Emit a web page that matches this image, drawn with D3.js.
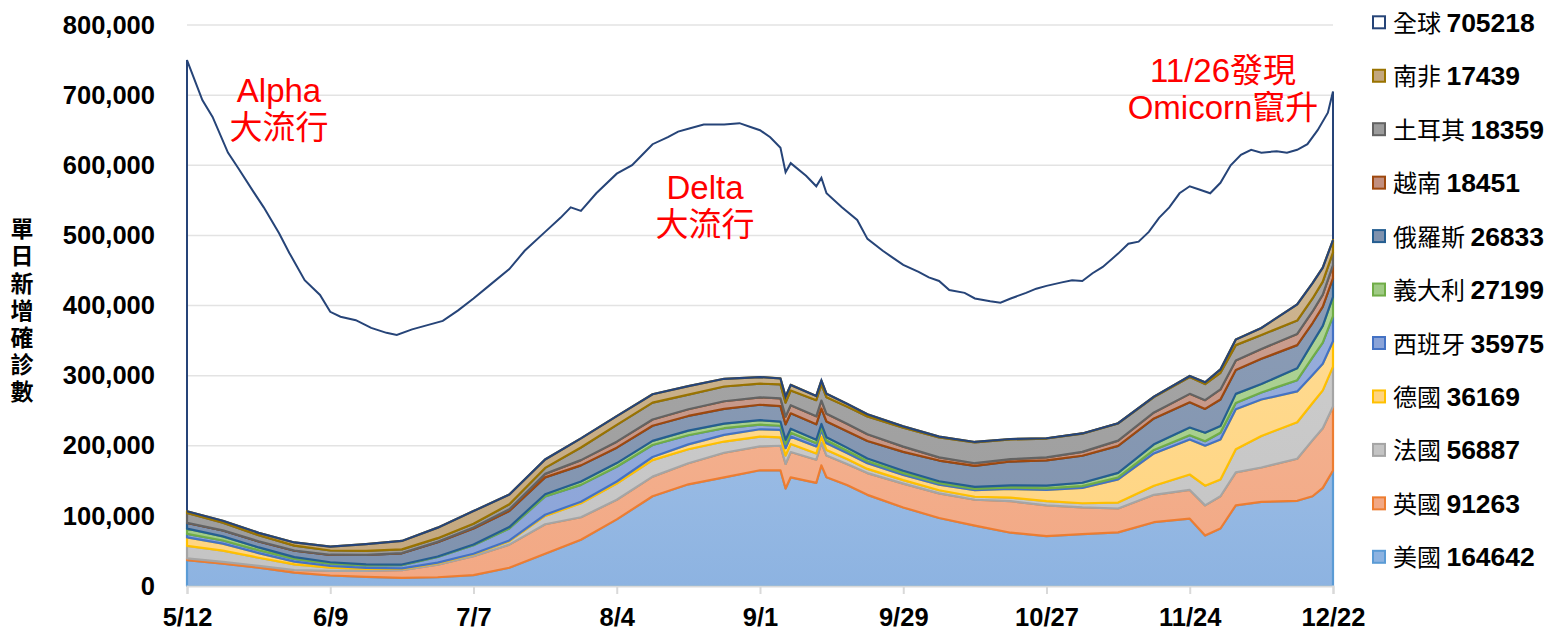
<!DOCTYPE html>
<html>
<head>
<meta charset="utf-8">
<script src="https://cdnjs.cloudflare.com/ajax/libs/d3/7.8.5/d3.min.js"></script>
<style>
  body { margin: 0; background: #fff; }
  svg text { font-family: "Liberation Sans", Arial, "Noto Sans CJK TC", sans-serif; }
  .axis-label { font-size: 25.5px; font-weight: bold; fill: #000; }
  .note { font-size: 33px; fill: #ff0000; }
  .cjk { font-family: "Noto Sans CJK TC", sans-serif; }
</style>
</head>
<body>
<svg width="1555" height="630"></svg>
<script>
// sample dates of the stacked series (daily cases, 7-day smoothed)
var dates = ["2021-05-12","2021-05-19","2021-05-26","2021-06-02","2021-06-09","2021-06-16","2021-06-23","2021-06-30","2021-07-07","2021-07-14",
  "2021-07-21","2021-07-28","2021-08-04","2021-08-11","2021-08-18","2021-08-25","2021-09-01","2021-09-05","2021-09-06","2021-09-07",
  "2021-09-12","2021-09-13","2021-09-14","2021-09-18","2021-09-22","2021-09-29","2021-10-06","2021-10-13","2021-10-20","2021-10-27",
  "2021-11-03","2021-11-10","2021-11-17","2021-11-24","2021-11-27","2021-11-30","2021-12-03","2021-12-08","2021-12-15","2021-12-18",
  "2021-12-20","2021-12-22"];

var usa = [37000,32000,26000,19000,15000,13000,11500,12500,15500,26000,
  46000,66000,95000,128000,145000,155000,165000,165000,139000,155000,
  147000,172000,155000,144000,130000,112000,97000,86000,76000,71000,
  74000,76500,91000,96000,72000,82000,115000,120000,121500,128000,
  140000,164642];
var uk = [2300,2400,2800,3800,6500,8500,11000,18000,27000,33000,
  42000,32000,28000,28000,30000,35000,34000,35000,35000,36000,
  33000,32000,31000,30000,31000,34000,35000,37000,45000,44000,
  38000,34000,39000,41000,43000,46000,47000,49000,60000,80000,
  85000,91263];
var france = [18000,16000,11500,8000,4500,3000,2000,2200,2800,5000,
  12000,20000,23000,23500,20000,16000,14000,12000,12000,11500,
  9000,8500,8000,7000,6000,5000,4500,4300,5000,6000,
  6000,8500,13000,22000,28000,24000,33000,45000,52000,53000,
  54000,56887];
var germany = [12000,10000,6500,4000,2500,1300,700,600,700,1000,
  1600,2200,3000,4500,7000,9500,10500,10500,10500,10500,
  10000,9500,9500,8500,8000,7500,8000,9500,12500,16000,
  22000,33000,46000,50000,57000,57000,57000,52000,44000,40000,
  38000,36169];
var spain = [5000,4500,4200,3800,3500,3600,4500,8000,12000,17000,
  26000,24000,21000,17000,13000,9500,6500,6000,6000,5500,
  4500,4200,4000,3500,3000,2500,2000,1800,2000,2300,
  2400,2800,5000,6000,6500,9500,9000,10000,16000,25000,
  30000,35975];
var italy = [7500,5800,4000,2600,1900,1300,900,800,1100,2000,
  3300,4800,5300,6000,6500,6500,6500,6000,6000,5800,
  5000,4800,4600,4300,3800,3300,2900,2700,3000,3800,
  4800,6500,8000,11000,12000,9500,13000,12000,17000,21000,
  24000,27199];
var russia = [8300,8500,8600,9200,10500,13500,16000,20500,23000,23000,
  24000,23000,22000,21500,21000,21000,22000,22000,22000,22000,
  22000,22000,22500,23500,25000,27000,29500,30000,34000,36000,
  38500,38500,37000,36000,34000,38000,34000,36000,33000,28000,
  27500,26833];
var vietnam = [40,100,200,200,200,300,400,600,1200,2500,
  5000,7500,8500,9000,9500,11000,10500,11000,11000,11500,
  11500,11500,11000,10500,9500,7500,4500,3800,3500,4200,
  5500,7500,8500,12000,12500,14300,13500,14000,16000,16500,
  17000,18451];
var turkey = [14000,11000,8500,7000,6000,5700,5300,5000,5500,7000,
  8500,18000,24000,24000,21000,21000,19500,20000,20000,21000,
  23000,23000,23500,24500,25500,27000,28500,29500,28000,27000,
  26000,24500,22000,24000,23000,23700,22000,20000,19000,18500,
  18500,18359];
var southAfrica = [2400,2800,3500,4500,5500,9500,12000,15000,18000,14000,
  12000,13000,12500,12000,12000,11000,9500,8500,8500,8000,
  6000,5500,5000,4000,3000,1800,1200,800,600,400,
  350,350,600,1500,2500,4800,8000,10000,23000,22000,
  20000,17439];

// global line has its own sample dates
var globalDates = ["2021-05-12","2021-05-15","2021-05-17","2021-05-20","2021-05-22","2021-05-25","2021-05-27","2021-05-30","2021-06-01","2021-06-04",
  "2021-06-07","2021-06-09","2021-06-11","2021-06-14","2021-06-17","2021-06-20","2021-06-22","2021-06-25","2021-06-28","2021-07-01",
  "2021-07-04","2021-07-07","2021-07-10","2021-07-14","2021-07-17","2021-07-21","2021-07-24","2021-07-26","2021-07-28","2021-07-31",
  "2021-08-04","2021-08-07","2021-08-09","2021-08-11","2021-08-14","2021-08-16","2021-08-18","2021-08-21","2021-08-25","2021-08-28",
  "2021-08-30","2021-09-01","2021-09-03","2021-09-05","2021-09-06","2021-09-07","2021-09-10","2021-09-12","2021-09-13","2021-09-14",
  "2021-09-17","2021-09-20","2021-09-22","2021-09-25","2021-09-27","2021-09-29","2021-10-02","2021-10-04","2021-10-06","2021-10-08",
  "2021-10-11","2021-10-13","2021-10-16","2021-10-18","2021-10-20","2021-10-23","2021-10-25","2021-10-27","2021-10-30","2021-11-01",
  "2021-11-03","2021-11-05","2021-11-07","2021-11-10","2021-11-12","2021-11-14","2021-11-16","2021-11-18","2021-11-20","2021-11-22",
  "2021-11-24","2021-11-26","2021-11-28","2021-11-30","2021-12-02","2021-12-04","2021-12-06","2021-12-08","2021-12-11","2021-12-13",
  "2021-12-15","2021-12-17","2021-12-19","2021-12-21","2021-12-22"];
var globalCases = [750000,693000,669000,618000,596000,562000,540000,503000,475000,436000,
  415000,391000,384000,379000,368000,361000,358000,366000,372000,378000,
  393000,410000,428000,452000,478000,505000,525000,540000,535000,560000,
  588000,600000,615000,630000,640000,648000,652000,658000,658000,660000,
  655000,650000,640000,625000,590000,603000,585000,570000,582000,560000,
  540000,522000,495000,478000,468000,458000,448000,440000,435000,422000,
  418000,410000,406000,404000,410000,418000,424000,428000,433000,436000,
  435000,446000,455000,474000,488000,491000,505000,525000,540000,560000,
  570000,565000,560000,575000,600000,615000,622000,618000,620000,618000,
  622000,630000,650000,675000,705218];

var xTicks = ["2021-05-12","2021-06-09","2021-07-07","2021-08-04","2021-09-01","2021-09-29","2021-10-27","2021-11-24","2021-12-22"];
var yTicks = [0,100000,200000,300000,400000,500000,600000,700000,800000];

// series, bottom to top
var keys = ["美國","英國","法國","德國","西班牙","義大利","俄羅斯","越南","土耳其","南非"];
var seriesData = [usa, uk, france, germany, spain, italy, russia, vietnam, turkey, southAfrica];
var fillTop = ["#c2d6ef","#f7c3a6","#d6d6d6","#ffe2a4","#a6badf","#bcdaa6","#96a6bd","#d3ada0","#afafaf","#d4bf9e"];
var fillBottom = ["#8db3e1","#f2a884","#c4c4c4","#ffd480","#8aa3d8","#a0cb85","#7f92ae","#c28f7f","#9c9c9c","#c3a77e"];
var strokes = ["#5b9bd5","#ed7d31","#a5a5a5","#ffc000","#4472c4","#70ad47","#255e91","#9e480e","#636363","#997300"];
var globalColor = "#264478";

var parse = d3.timeParse("%Y-%m-%d");

var rows = dates.map(function(d, i) {
  var r = {date: parse(d)};
  keys.forEach(function(k, j) { r[k] = seriesData[j][i]; });
  return r;
});
var globalRows = globalDates.map(function(d, i) { return {date: parse(d), value: globalCases[i]}; });

var svg = d3.select("svg"),
    margin = {left: 187, right: 222, top: 25, bottom: 44},
    x = d3.scaleTime().domain([parse(dates[0]), parse(dates[dates.length-1])]).range([margin.left, 1555 - margin.right]),
    y = d3.scaleLinear().domain([0, 800000]).range([630 - margin.bottom, margin.top]);

var defs = svg.append("defs");
keys.forEach(function(k, j) {
  var g = defs.append("linearGradient").attr("id", "grad" + j)
    .attr("gradientUnits", "userSpaceOnUse")
    .attr("x1", 0).attr("y1", y(800000)).attr("x2", 0).attr("y2", y(0));
  g.append("stop").attr("offset", "0%").attr("stop-color", fillTop[j]);
  g.append("stop").attr("offset", "100%").attr("stop-color", fillBottom[j]);
});

// gridlines
svg.append("g").selectAll("line").data(yTicks.slice(1)).enter().append("line")
  .attr("x1", x.range()[0]).attr("x2", x.range()[1])
  .attr("y1", function(d) { return y(d); }).attr("y2", function(d) { return y(d); })
  .attr("stroke", "#e3e3e3").attr("stroke-width", 1.5);

// global series, drawn behind the stack
var globalArea = d3.area()
  .x(function(d) { return x(d.date); })
  .y0(y(0))
  .y1(function(d) { return y(d.value); });
svg.append("path").datum(globalRows)
  .attr("d", globalArea)
  .attr("fill", "none").attr("stroke", globalColor).attr("stroke-width", 2);

// stacked areas
var stack = d3.stack().keys(keys);
var layers = stack(rows);
var area = d3.area()
  .x(function(d) { return x(d.data.date); })
  .y0(function(d) { return y(d[0]); })
  .y1(function(d) { return y(d[1]); });

svg.append("g").selectAll("path").data(layers).enter().append("path")
  .attr("d", area)
  .attr("fill", function(d, i) { return "url(#grad" + i + ")"; })
  .attr("stroke", function(d, i) { return strokes[i]; })
  .attr("stroke-width", 2.2)
  .attr("stroke-linejoin", "round");

// top of the stack carries the global series border
var topLine = d3.line()
  .x(function(d) { return x(d.data.date); })
  .y(function(d) { return y(d[1]); });
svg.append("path").datum(layers[layers.length-1])
  .attr("d", topLine)
  .attr("fill", "none").attr("stroke", globalColor).attr("stroke-width", 2.2);

// x axis
var xAxis = svg.append("g").attr("transform", "translate(0," + y(0) + ")")
  .call(d3.axisBottom(x).tickValues(xTicks.map(parse)).tickFormat(d3.timeFormat("%-m/%-d")).tickSize(8).tickPadding(14));
xAxis.select(".domain").attr("stroke", "#d9d9d9").attr("stroke-width", 2);
xAxis.selectAll(".tick line").attr("stroke", "#d9d9d9").attr("stroke-width", 2);
xAxis.selectAll(".tick text").attr("class", "axis-label").attr("font-family", null).attr("font-size", null);

// y axis labels
var yAxis = svg.append("g").attr("transform", "translate(" + (x.range()[0] - 32) + ",0)")
  .call(d3.axisLeft(y).tickValues(yTicks).tickFormat(d3.format(",")).tickSize(0).tickPadding(0));
yAxis.select(".domain").remove();
yAxis.selectAll(".tick text").attr("class", "axis-label").attr("font-family", null).attr("font-size", null);

// y title, written top to bottom
svg.append("text")
  .attr("class", "cjk")
  .attr("x", 22).attr("y", 217)
  .style("writing-mode", "vertical-rl")
  .style("text-orientation", "upright")
  .style("letter-spacing", "4.2px")
  .style("font-size", "23px").style("font-weight", "bold")
  .text("單日新增確診數");

// legend
var legendItems = [{name: "全球", value: globalCases[globalCases.length-1], fill: "#fff", stroke: globalColor}];
for (var j = keys.length - 1; j >= 0; j--) {
  legendItems.push({name: keys[j], value: seriesData[j][seriesData[j].length-1], fill: fillBottom[j], stroke: strokes[j]});
}
var legend = svg.append("g").selectAll("g").data(legendItems).enter().append("g")
  .attr("transform", function(d, i) { return "translate(1372," + (22.8 + i * 53.45) + ")"; });
legend.append("rect")
  .attr("x", 1).attr("y", -6.5).attr("width", 12).attr("height", 12)
  .attr("fill", function(d) { return d.fill; })
  .attr("stroke", function(d) { return d.stroke; }).attr("stroke-width", 2);
var lt = legend.append("text").attr("x", 21).attr("y", 9);
lt.append("tspan").attr("class", "cjk").style("font-size", "24px")
  .text(function(d) { return d.name + " "; });
lt.append("tspan").style("font-size", "26.5px").style("font-weight", "bold")
  .text(function(d) { return d.value; });

// annotations, two lines each
var notes = [
  {lines: ["Alpha", "大流行"], x: 279, y: 102},
  {lines: ["Delta", "大流行"], x: 705, y: 199},
  {lines: ["11/26發現", "Omicorn竄升"], x: 1223, y: 82}
];
var nt = svg.append("g").selectAll("text").data(notes).enter().append("text")
  .attr("class", "note")
  .attr("x", function(d) { return d.x; }).attr("y", function(d) { return d.y; })
  .attr("text-anchor", "middle");
nt.selectAll("tspan").data(function(d) { return d.lines.map(function(l) { return {t: l, x: d.x}; }); })
  .enter().append("tspan")
  .attr("x", function(d) { return d.x; })
  .attr("dy", function(d, i) { return i === 0 ? 0 : 36.5; })
  .text(function(d) { return d.t; });
</script>
</body>
</html>
